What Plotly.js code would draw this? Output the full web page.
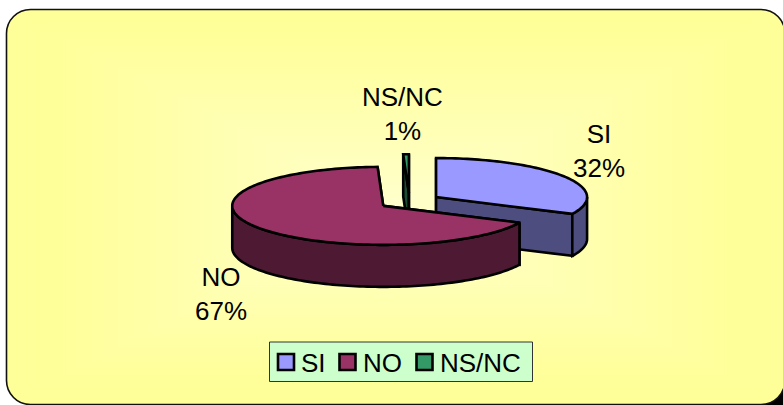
<!DOCTYPE html>
<html>
<head>
<meta charset="utf-8">
<script src="https://cdn.plot.ly/plotly-3.0.1.min.js"></script>
<style>html,body{margin:0;padding:0;background:#fff;overflow:hidden}#chart{width:783px;height:405px}</style>
</head>
<body>
<div id="chart"></div>
<script>
// Data
var categories = ['SI', 'NO', 'NS/NC'];
var values = [32.1, 67.3, 0.6];
var topColors = ['#9999FF', '#993366', '#339966'];
var wallColors = ['#4D4D80', '#4D1933', '#1A4D33'];
var drawOrder = [0, 2, 1];

// Pie projection
var W = 783, H = 405;
var cx = 409.5, cy = 201.4, rx = 151, ry = 39, depth = 42, explode = 0.208;
var startAngle = 90;

var total = values.reduce(function (a, b) { return a + b; }, 0);
var slices = [];
(function () {
  var a = startAngle;
  values.forEach(function (v) {
    var sweep = v / total * 360;
    var mid = (a - sweep / 2) * Math.PI / 180;
    slices.push({
      a0: a, a1: a - sweep,
      x: cx + explode * rx * Math.cos(mid),
      y: cy - explode * ry * Math.sin(mid)
    });
    a -= sweep;
  });
})();

function pt(s, deg, dz) {
  var r = deg * Math.PI / 180;
  return [s.x + rx * Math.cos(r), s.y - ry * Math.sin(r) + (dz || 0)];
}
function arc(s, a0, a1, dz) {
  var n = Math.max(2, Math.ceil(Math.abs(a0 - a1) / 1.5)), out = [];
  for (var i = 0; i <= n; i++) out.push(pt(s, a0 + (a1 - a0) * i / n, dz));
  return out;
}
function poly(points, fill) {
  var closed = points.concat([points[0]]);
  return {
    type: 'scatter', mode: 'lines', fill: 'toself', fillcolor: fill,
    x: closed.map(function (p) { return p[0]; }),
    y: closed.map(function (p) { return p[1]; }),
    line: { color: '#000', width: 2.6, simplify: false },
    hoverinfo: 'skip', showlegend: false
  };
}

var traces = [];
drawOrder.forEach(function (i) {
  var s = slices[i], wall = wallColors[i], c = [s.x, s.y], cd = [s.x, s.y + depth];
  [s.a0, s.a1].forEach(function (a) {
    traces.push(poly([c, pt(s, a), pt(s, a, depth), cd], wall));
  });
  var from = Math.min(s.a0, 0), to = Math.max(s.a1, -180);
  if (from > to) {
    traces.push(poly(arc(s, from, to, 0).concat(arc(s, to, from, depth)), wall));
  }
  traces.push(poly([c].concat(arc(s, s.a0, s.a1, 0)), topColors[i]));
});

// Background: rounded frame with a rectangular gradient
function background() {
  var cv = document.createElement('canvas');
  cv.width = W; cv.height = H;
  var g = cv.getContext('2d');
  var x0 = 6.5, y0 = 9.5, x1 = 785, y1 = 404.5, r = 24;
  function frame() {
    g.beginPath();
    g.moveTo(x0 + r, y0); g.lineTo(x1 - r, y0); g.arcTo(x1, y0, x1, y0 + r, r);
    g.lineTo(x1, y1 - r); g.arcTo(x1, y1, x1 - r, y1, r);
    g.lineTo(x0 + r, y1); g.arcTo(x0, y1, x0, y1 - r, r);
    g.lineTo(x0, y0 + r); g.arcTo(x0, y0, x0 + r, y0, r);
    g.closePath();
  }
  g.fillStyle = '#000';
  g.fillRect(760, 385, 23, 20);
  g.save(); frame(); g.clip();
  var mx = 395, my = 207, steps = 120;
  for (var i = 0; i < steps; i++) {
    var t = 1 - i / steps, hw = t * 395, hh = t * 200;
    var b = Math.round(204 - 51 * Math.min(1, t * 1.15));
    g.fillStyle = 'rgb(255,255,' + b + ')';
    g.fillRect(mx - hw, my - hh, hw * 2, hh * 2);
  }
  g.restore();
  frame();
  g.strokeStyle = '#111'; g.lineWidth = 1.6; g.stroke();
  return cv.toDataURL('image/png');
}

// Slice labels
var labelFont = { family: 'Liberation Sans, Arial, sans-serif', size: 26, color: '#000' };
var labelPos = [[599, 151], [221, 294], [402.5, 114]];
var annotations = categories.map(function (name, i) {
  return {
    x: labelPos[i][0], y: labelPos[i][1], xref: 'x', yref: 'y',
    text: name + '<br>' + Math.round(values[i] / total * 100) + '%',
    showarrow: false, xanchor: 'center', yanchor: 'middle', align: 'center', font: labelFont
  };
});

// Legend
var legendBox = { x0: 269.5, x1: 532.5, y0: 342, y1: 381.5 };
var swatchX = [278, 339.5, 416.5];
var legendTextX = [300, 362, 439];
var shapes = [{
  type: 'rect', xref: 'x', yref: 'y', x0: legendBox.x0, x1: legendBox.x1, y0: legendBox.y0, y1: legendBox.y1,
  fillcolor: '#CCFFCC', line: { color: '#333', width: 1 }
}];
categories.forEach(function (name, i) {
  shapes.push({
    type: 'rect', xref: 'x', yref: 'y', x0: swatchX[i], x1: swatchX[i] + 16, y0: 354, y1: 370,
    fillcolor: topColors[i], line: { color: '#000', width: 2.6 }
  });
  annotations.push({
    x: legendTextX[i], y: 362.5, xref: 'x', yref: 'y', text: name, showarrow: false,
    xanchor: 'left', yanchor: 'middle', font: { family: labelFont.family, size: 26, color: '#000' },
    xshift: -1
  });
});

var layout = {
  width: W, height: H, margin: { l: 0, r: 0, t: 0, b: 0 },
  paper_bgcolor: 'rgba(0,0,0,0)', plot_bgcolor: 'rgba(0,0,0,0)',
  showlegend: false,
  xaxis: { range: [0, W], visible: false, fixedrange: true },
  yaxis: { range: [H, 0], visible: false, fixedrange: true },
  images: [{
    source: background(), xref: 'paper', yref: 'paper', x: 0, y: 1,
    sizex: 1, sizey: 1, sizing: 'stretch', xanchor: 'left', yanchor: 'top', layer: 'below'
  }],
  shapes: shapes, annotations: annotations
};
Plotly.newPlot('chart', traces, layout, { displayModeBar: false, staticPlot: true });
</script>
</body>
</html>
